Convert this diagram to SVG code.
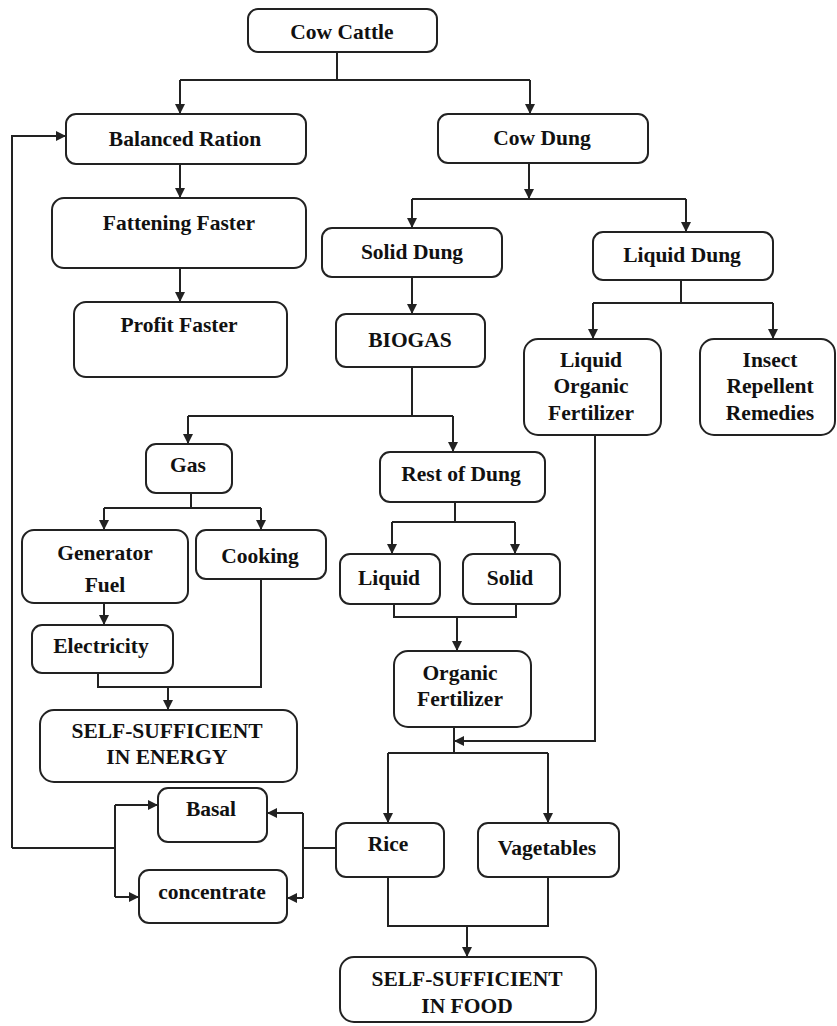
<svg xmlns="http://www.w3.org/2000/svg" width="837" height="1026" viewBox="0 0 837 1026">
<defs>
<marker id="ah" markerUnits="userSpaceOnUse" markerWidth="10" markerHeight="10" refX="10" refY="5" orient="auto">
<path d="M0,0 L10,5 L0,10 z" fill="#222"/>
</marker>
<style>
.n rect{fill:#fff;stroke:#222;stroke-width:2}
.n text{font-weight:bold;font-size:21.5px;fill:#111;text-anchor:middle}
#connectors path{fill:none;stroke:#222;stroke-width:2}
.a{marker-end:url(#ah)}
</style>
</defs>
<rect width="837" height="1026" fill="#fff"/>
<g id="connectors">
<path d="M337,52 V80 M180,80 H530"/>
<path class="a" d="M180,80 V114"/>
<path class="a" d="M530,80 V114"/>
<path class="a" d="M180,164 V198"/>
<path class="a" d="M180,268 V302"/>
<path class="a" d="M529,163 V199"/>
<path d="M412,199 H686"/>
<path class="a" d="M412,199 V228"/>
<path class="a" d="M686,199 V232"/>
<path class="a" d="M412,277 V314"/>
<path d="M681,280 V303 M593,303 H773"/>
<path class="a" d="M593,303 V339"/>
<path class="a" d="M773,303 V339"/>
<path d="M412,367 V416 M188,416 H453"/>
<path class="a" d="M188,416 V444"/>
<path class="a" d="M453,416 V452"/>
<path d="M191,493 V508 M104,508 H261"/>
<path class="a" d="M104,508 V530"/>
<path class="a" d="M261,508 V530"/>
<path d="M455,502 V522 M392,522 H515"/>
<path class="a" d="M392,522 V554"/>
<path class="a" d="M515,522 V554"/>
<path class="a" d="M104,603 V625"/>
<path d="M98,673 V687 H261 V579"/>
<path class="a" d="M168,687 V710"/>
<path d="M394,604 V617 H516 V604"/>
<path class="a" d="M457,617 V651"/>
<path d="M454,727 V753"/>
<path class="a" d="M595,435 V741 H454"/>
<path d="M388,753 H548"/>
<path class="a" d="M388,753 V823"/>
<path class="a" d="M548,753 V823"/>
<path d="M388,877 V926 H548 V877"/>
<path class="a" d="M467,926 V957"/>
<path d="M336,848 H303 M303,813 V898"/>
<path class="a" d="M303,813 H267"/>
<path class="a" d="M303,898 H287"/>
<path d="M12,848 H115 M115,805 V897"/>
<path class="a" d="M115,805 H158"/>
<path class="a" d="M115,897 H139"/>
<path class="a" d="M12,848 V136 H66"/>
</g>
<g font-family="Liberation Serif, Times New Roman, serif">
<g id="cow-cattle" class="n"><rect x="248" y="9" width="189" height="43" rx="10"/><text x="342" y="39">Cow Cattle</text></g>
<g id="balanced-ration" class="n"><rect x="66" y="114" width="240" height="50" rx="10"/><text x="185" y="146">Balanced Ration</text></g>
<g id="cow-dung" class="n"><rect x="438" y="114" width="210" height="49" rx="10"/><text x="542" y="145">Cow Dung</text></g>
<g id="fattening-faster" class="n"><rect x="52" y="198" width="254" height="70" rx="12"/><text x="179" y="230">Fattening Faster</text></g>
<g id="profit-faster" class="n"><rect x="74" y="302" width="213" height="75" rx="12"/><text x="179" y="332">Profit Faster</text></g>
<g id="solid-dung" class="n"><rect x="322" y="228" width="180" height="49" rx="10"/><text x="412" y="259">Solid Dung</text></g>
<g id="liquid-dung" class="n"><rect x="593" y="232" width="180" height="48" rx="10"/><text x="682" y="262">Liquid Dung</text></g>
<g id="biogas" class="n"><rect x="336" y="314" width="149" height="53" rx="10"/><text x="410" y="347">BIOGAS</text></g>
<g id="liquid-organic-fertilizer" class="n"><rect x="524" y="339" width="137" height="96" rx="14"/><text x="591" y="367">Liquid</text><text x="591" y="393">Organic</text><text x="591" y="420">Fertilizer</text></g>
<g id="insect-repellent-remedies" class="n"><rect x="700" y="339" width="135" height="96" rx="14"/><text x="770" y="367">Insect</text><text x="770" y="393">Repellent</text><text x="770" y="420">Remedies</text></g>
<g id="gas" class="n"><rect x="146" y="444" width="86" height="49" rx="10"/><text x="188" y="472">Gas</text></g>
<g id="rest-of-dung" class="n"><rect x="380" y="452" width="165" height="50" rx="10"/><text x="461" y="481">Rest of Dung</text></g>
<g id="generator-fuel" class="n"><rect x="22" y="530" width="166" height="73" rx="12"/><text x="105" y="560">Generator</text><text x="105" y="592">Fuel</text></g>
<g id="cooking" class="n"><rect x="196" y="530" width="130" height="49" rx="10"/><text x="260" y="563">Cooking</text></g>
<g id="liquid" class="n"><rect x="340" y="554" width="100" height="50" rx="10"/><text x="389" y="585">Liquid</text></g>
<g id="solid" class="n"><rect x="463" y="554" width="97" height="50" rx="10"/><text x="510" y="585">Solid</text></g>
<g id="electricity" class="n"><rect x="32" y="625" width="141" height="48" rx="10"/><text x="101" y="653">Electricity</text></g>
<g id="self-sufficient-energy" class="n"><rect x="40" y="710" width="257" height="72" rx="14"/><text x="167" y="738">SELF-SUFFICIENT</text><text x="167" y="764">IN ENERGY</text></g>
<g id="organic-fertilizer" class="n"><rect x="394" y="651" width="137" height="76" rx="14"/><text x="460" y="680">Organic</text><text x="460" y="706">Fertilizer</text></g>
<g id="basal" class="n"><rect x="158" y="788" width="109" height="54" rx="10"/><text x="211" y="816">Basal</text></g>
<g id="concentrate" class="n"><rect x="139" y="870" width="148" height="53" rx="10"/><text x="212" y="899">concentrate</text></g>
<g id="rice" class="n"><rect x="336" y="823" width="108" height="54" rx="10"/><text x="388" y="851">Rice</text></g>
<g id="vegetables" class="n"><rect x="478" y="823" width="141" height="54" rx="10"/><text x="547" y="855">Vagetables</text></g>
<g id="self-sufficient-food" class="n"><rect x="340" y="957" width="256" height="65" rx="14"/><text x="467" y="986">SELF-SUFFICIENT</text><text x="467" y="1013">IN FOOD</text></g>
</g>
</svg>
